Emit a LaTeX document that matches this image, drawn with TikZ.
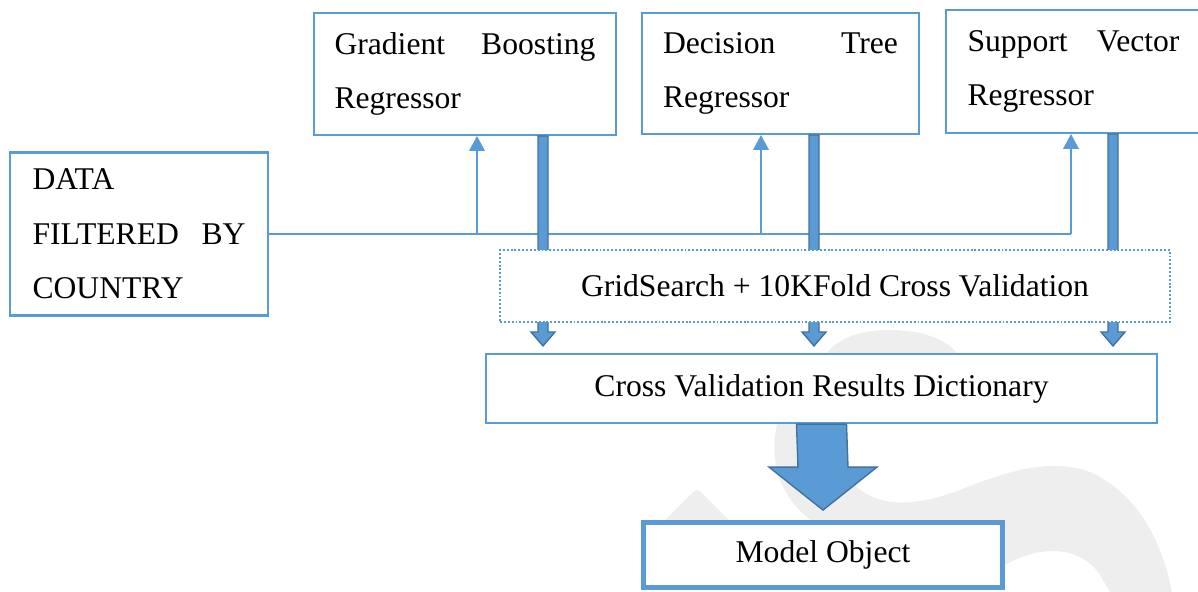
\documentclass[tikz,border=0pt]{standalone}
\usepackage{fontspec}
\setmainfont{Liberation Serif}
\usetikzlibrary{calc}
\usetikzlibrary{arrows.meta}
\definecolor{boxblue}{HTML}{5B9BD5}
\definecolor{edgeblue}{HTML}{41719C}
\definecolor{markgray}{HTML}{EEEEEE}
\tikzset{
  box/.style = {draw=#1, line width=1.2pt, fill=white, inner sep=0pt, font=\fontsize{18}{31}\selectfont},
  textbox/.style = {box={#1}, align=left},
  dotbox/.style = {box={#1}, line width=1.3pt, dash pattern=on 1.1pt off 1.1pt},
  feed/.style = {color=#1, line width=0.7pt},
  feedvec/.style = {color=#1, line width=0.7pt, -{Triangle[width=9pt,length=8.5pt]}},
  fat/.style = {draw=#1, fill=boxblue, line width=0.8pt, line join=miter},
  watermark/.style = {fill=#1}
}
\newcommand{\wordgap}{\hskip 0pt plus 1filll\relax}
\newcommand{\fatdown}[5]{%
  % #1: start point
  % #2: tip point
  % #3: half width of the shaft
  % #4: half width of the head
  % #5: length of the head
  \path #1 coordinate (fa) #2 coordinate (fb);
  \draw[fat={edgeblue}] ($(fa)+(-#3,0)$) -- ($(fb)+(-#3,-#5)$) -- ($(fb)+(-#4,-#5)$) -- (fb)
    -- ($(fb)+(#4,-#5)$) -- ($(fb)+(#3,-#5)$) -- ($(fa)+(#3,0)$) -- cycle;
}

\begin{document}
\begin{tikzpicture}[x=0.02cm, y=-0.02cm]

    \useasboundingbox (0,0) rectangle (1198,592);

    % Watermark
    \fill[watermark={markgray}] (958,354) .. controls (945,338) and (920,330) .. (890,330)
      .. controls (860,330) and (838,338) .. (826,354)
      .. controls (780,385) and (765,440) .. (780,480)
      .. controls (790,505) and (810,525) .. (840,535) -- (1005,565)
      .. controls (1040,545) and (1080,545) .. (1100,575) -- (1110,592) -- (1172,592)
      .. controls (1160,530) and (1130,490) .. (1090,472)
      .. controls (1050,458) and (1010,470) .. (960,490)
      .. controls (920,505) and (880,510) .. (855,485)
      .. controls (820,450) and (840,390) .. (958,354) -- cycle;
    \fill[watermark={markgray}, rounded corners=3pt] (697,488) -- (645,540) -- (749,540) -- cycle;

    % Boxes
    \node[textbox={boxblue}, minimum width=5.16cm, minimum height=3.26cm, text width=4.26cm] (data) at (139,234)
      {DATA\\FILTERED\wordgap BY\\COUNTRY};
    \node[textbox={boxblue}, minimum width=6.04cm, minimum height=2.44cm, text width=5.22cm] (gbr) at (465,74)
      {Gradient\wordgap Boosting\\Regressor};
    \node[textbox={boxblue}, minimum width=5.54cm, minimum height=2.42cm, text width=4.70cm] (dtr) at (780.5,73.5)
      {Decision\wordgap Tree\\Regressor};
    \node[textbox={boxblue}, minimum width=5.10cm, minimum height=2.46cm, text width=4.24cm] (svr) at (1073.5,71.5)
      {Support\wordgap Vector\\Regressor};
    \node[box={boxblue}, minimum width=13.42cm, minimum height=1.38cm] (cvr) at (821.5,388.5)
      {Cross Validation Results Dictionary};
    \node[box={boxblue}, line width=2.8pt, minimum width=7.18cm, minimum height=1.30cm] (model) at (823,555)
      {Model Object};

    % Columns
    \coordinate (f1) at (477,0);
    \coordinate (f2) at (761,0);
    \coordinate (f3) at (1071,0);
    \coordinate (c1) at (543,0);
    \coordinate (c2) at (814,0);
    \coordinate (c3) at (1113,0);

    % Data feed
    \draw[feed={boxblue}] (data.east) -- (data.east -| f3);
    \foreach \col/\target in {f1/gbr, f2/dtr, f3/svr} {
        \draw[feedvec={boxblue}] (data.east -| \col) -- (\target.south -| \col);
    }

    % Results
    \foreach \col/\source in {c1/gbr, c2/dtr, c3/svr} {
        \fatdown{(\source.south -| \col)}{($(cvr.north -| \col)+(0,-7)$)}{5}{12}{14}
    }
    \fatdown{(cvr.south)}{($(model.north)+(0,-10)$)}{25}{54}{43}

    % Grid search
    \node[dotbox={boxblue}, minimum width=13.4cm, minimum height=1.44cm] (grid) at (835,286)
      {GridSearch + 10KFold Cross Validation};

\end{tikzpicture}
\end{document}
